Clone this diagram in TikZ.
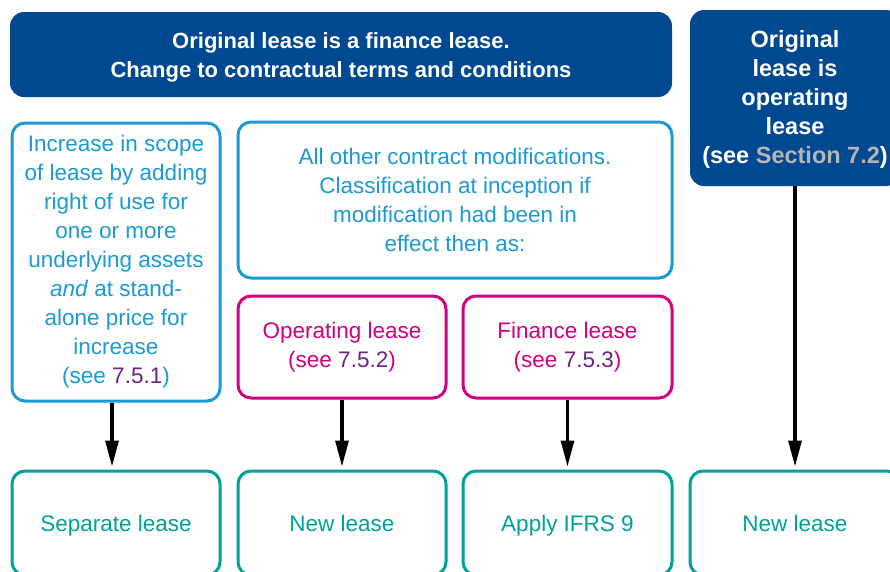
\documentclass[tikz,border=0pt]{standalone}
\usepackage{fontspec}
\setmainfont{Liberation Sans}
\usetikzlibrary{arrows.meta}
\definecolor{kdark}{HTML}{00488F}
\definecolor{klight}{HTML}{1B9AD6}
\definecolor{kpink}{HTML}{D1007E}
\definecolor{kteal}{HTML}{00A19B}
\definecolor{kpurple}{HTML}{6E2382}
\definecolor{kgray}{HTML}{B5B5B5}
\tikzset{
  hdr/.style={fill=kdark, draw=none, rounded corners=14pt, inner sep=0pt},
  hdrtext/.style={text=white, align=center, font=\fontsize{22}{28.5}\selectfont\bfseries, inner sep=0pt},
  bluebox/.style={draw=klight, line width=3pt, rounded corners=13pt, text=klight, align=center,
    font=\fontsize{22.5}{29}\selectfont, inner sep=0pt},
  pinkbox/.style={draw=kpink, line width=3pt, rounded corners=13pt, text=kpink, align=center,
    font=\fontsize{22.5}{29}\selectfont, inner sep=0pt},
  tealbox/.style={draw=kteal, line width=3pt, rounded corners=13pt, text=kteal, align=center,
    font=\fontsize{22.5}{29}\selectfont, inner sep=0pt, text height=20pt, text depth=4pt},
  arr/.style={line width=3.2pt, -{Triangle[length=26pt,width=13pt]}, shorten >=3pt}
}
\begin{document}
\begin{tikzpicture}[x=1pt,y=-1pt]
\useasboundingbox (0,0) rectangle (890,571);
\fill[white] (0,0) rectangle (890,571);
% headers
\node[hdr, minimum width=662pt, minimum height=85pt] (top) at (341,54.5) {};
\node[hdrtext] (toptext) at ([yshift=-3pt]top.center)
  {Original lease is a finance lease.\\Change to contractual terms and conditions};
\node[hdr, minimum width=210pt, minimum height=176pt] (oper) at (795,98) {};
\node[hdrtext, font=\fontsize{23.5}{28.8}\selectfont\bfseries] (opertext) at ([yshift=-1.5pt]oper.center)
  {Original\\lease is\\operating\\lease\\(see {\color{kgray}Section 7.2})};
% second row
\node[bluebox, minimum width=208pt, minimum height=278pt] (scope) at (116,262)
  {Increase in scope\\of lease by adding\\right of use for\\one or more\\underlying assets\\\textit{and} at stand-\\alone price for\\increase\\(see {\color{kpurple}7.5.1})};
\node[bluebox, minimum width=434pt, minimum height=156pt] (other) at (455,200)
  {All other contract modifications.\\Classification at inception if\\modification had been in\\effect then as:};
\node[pinkbox, minimum width=208pt, minimum height=102pt] (opl) at (342,347)
  {Operating lease\\(see {\color{kpurple}7.5.2})};
\node[pinkbox, minimum width=209pt, minimum height=102pt] (fin) at (567.5,347)
  {Finance lease\\(see {\color{kpurple}7.5.3})};
% bottom row
\node[tealbox, minimum width=208pt, minimum height=104pt] (sep) at (116,523) {Separate lease};
\node[tealbox, minimum width=208pt, minimum height=104pt] (new1) at (342,523) {New lease};
\node[tealbox, minimum width=209pt, minimum height=104pt] (ifrs) at (567.5,523) {Apply IFRS 9};
\node[tealbox, minimum width=210pt, minimum height=104pt] (new2) at (795,523) {New lease};
% arrows
\draw[arr] ([xshift=-4pt]scope.south) -- ([xshift=-4pt]sep.north);
\draw[arr] (opl.south) -- (new1.north);
\draw[arr] (fin.south) -- (ifrs.north);
\draw[arr] (oper.south) -- (new2.north);
\end{tikzpicture}
\end{document}
